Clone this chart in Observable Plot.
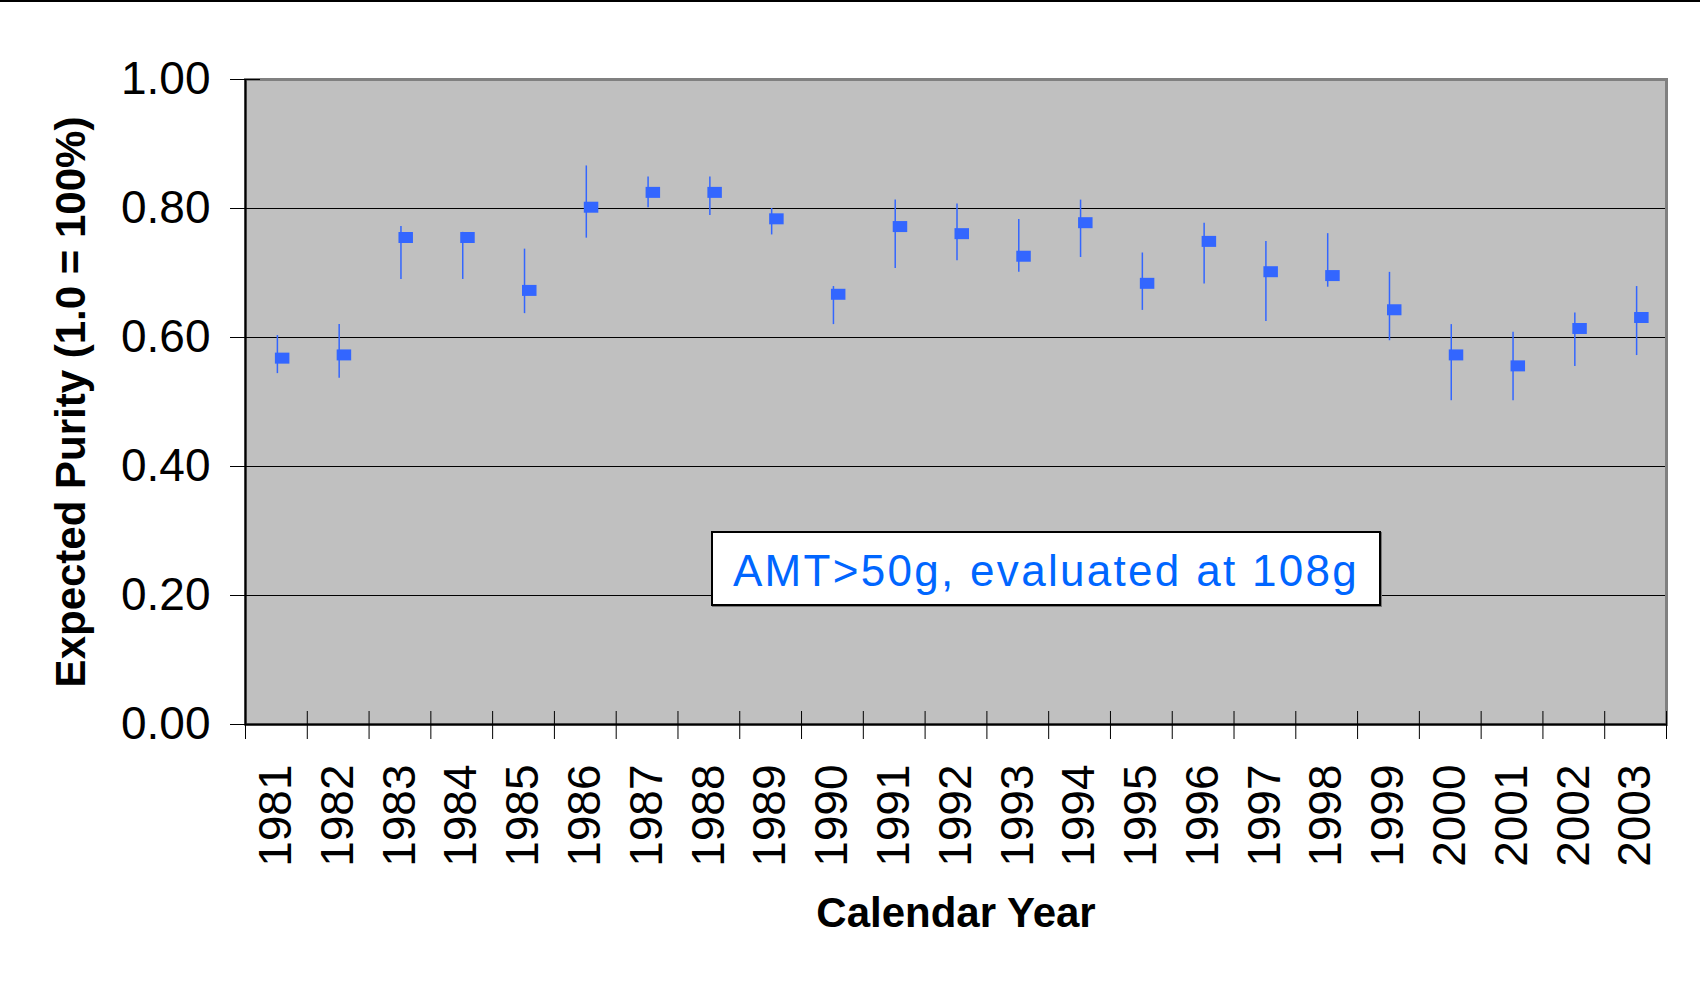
<!DOCTYPE html>
<html><head><meta charset="utf-8">
<script src="https://cdn.jsdelivr.net/npm/d3@7"></script>
<script src="https://cdn.jsdelivr.net/npm/@observablehq/plot@0.6"></script>
<style>
html,body{margin:0;padding:0;background:#fff;}
#wrap{position:relative;width:1700px;height:996px;overflow:hidden;}
#topline{position:absolute;left:0;top:0;width:1700px;height:2px;background:#000;}
#note{position:absolute;left:711px;top:531px;width:666px;height:71px;border:2px solid #000;background:#fff;box-shadow:1px 1px 0 #777;font-family:"Liberation Sans",Arial,sans-serif;font-size:44px;color:#0066ff;letter-spacing:2.3px;line-height:76px;text-align:center;white-space:nowrap;overflow:hidden;}
</style></head><body>
<div id="wrap"><div id="chart"></div><div id="topline"></div><div id="note">AMT&gt;50g, evaluated at 108g</div></div>
<script>
const years  = [1981,1982,1983,1984,1985,1986,1987,1988,1989,1990,1991,1992,1993,1994,1995,1996,1997,1998,1999,2000,2001,2002,2003];
const purity = [0.568,0.573,0.755,0.755,0.673,0.802,0.825,0.825,0.784,0.667,0.772,0.761,0.726,0.778,0.684,0.749,0.702,0.696,0.643,0.573,0.556,0.614,0.631];
const high   = [0.603,0.620,0.772,0.763,0.737,0.866,0.849,0.849,0.800,0.679,0.813,0.807,0.783,0.813,0.731,0.777,0.749,0.761,0.701,0.620,0.608,0.638,0.679];
const low    = [0.544,0.537,0.690,0.690,0.637,0.754,0.801,0.789,0.759,0.620,0.707,0.719,0.701,0.724,0.642,0.683,0.625,0.678,0.595,0.502,0.502,0.555,0.572];
const yTicks = [0, 0.2, 0.4, 0.6, 0.8, 1.0];
const yGrid = [0.2, 0.4, 0.6, 0.8];
const yTitle = "Expected Purity (1.0 = 100%)";
const xTitle = "Calendar Year";

const data = years.map((y, i) => ({year: y, purity: purity[i], high: high[i], low: low[i]}));
const bounds = years.map(y => y - 0.5).concat([years[years.length - 1] + 0.5]);

const boxSymbol = {draw(ctx) { ctx.rect(-1.5, -5.5, 14.5, 11); }};

const chart = Plot.plot({
  width: 1700, height: 996,
  marginLeft: 245, marginRight: 34, marginTop: 79, marginBottom: 272,
  style: {fontFamily: "'Liberation Sans', Arial, sans-serif", background: "#fff", color: "#000", overflow: "visible"},
  x: {type: "linear", domain: [bounds[0], bounds[bounds.length - 1]], axis: null, label: null},
  y: {domain: [0, 1], axis: null, label: null},
  marks: [
    Plot.frame({fill: "#c0c0c0"}),
    Plot.gridY(yGrid, {stroke: "#000", strokeOpacity: 1, strokeWidth: 1}),
    Plot.frame({stroke: "#808080", strokeWidth: 3}),
    Plot.ruleX([bounds[0]], {stroke: "#000", strokeWidth: 2}),
    Plot.ruleY([0], {stroke: "#000", strokeWidth: 2}),
    Plot.axisY(yTicks, {tickSize: 30, dx: 15, tickFormat: () => "", label: null}),
    Plot.axisY(yTicks, {tickSize: 0, tickPadding: 35, fontSize: 46, tickFormat: d3.format(".2f"), label: null}),
    Plot.axisX(bounds, {tickSize: 28, dy: -13, tickFormat: () => "", label: null}),
    Plot.axisX(years, {tickSize: 0, tickPadding: 40, tickRotate: -90, fontSize: 46, tickFormat: d => String(d), label: null}),
    Plot.ruleX(data, {x: "year", y1: "low", y2: "high", stroke: "#3366ff", strokeWidth: 1.5, dx: 1}),
    Plot.dot(data, {x: "year", y: "purity", symbol: boxSymbol, fill: "#3366ff", r: 5}),
    Plot.text([yTitle], {frameAnchor: "left", textAnchor: "middle", lineAnchor: "middle", rotate: -90, dx: -174, fontSize: 42, fontWeight: "bold"}),
    Plot.text([xTitle], {frameAnchor: "bottom", dy: 202, fontSize: 42, fontWeight: "bold"})
  ]
});
document.getElementById("chart").appendChild(chart);
</script>
</body></html>
